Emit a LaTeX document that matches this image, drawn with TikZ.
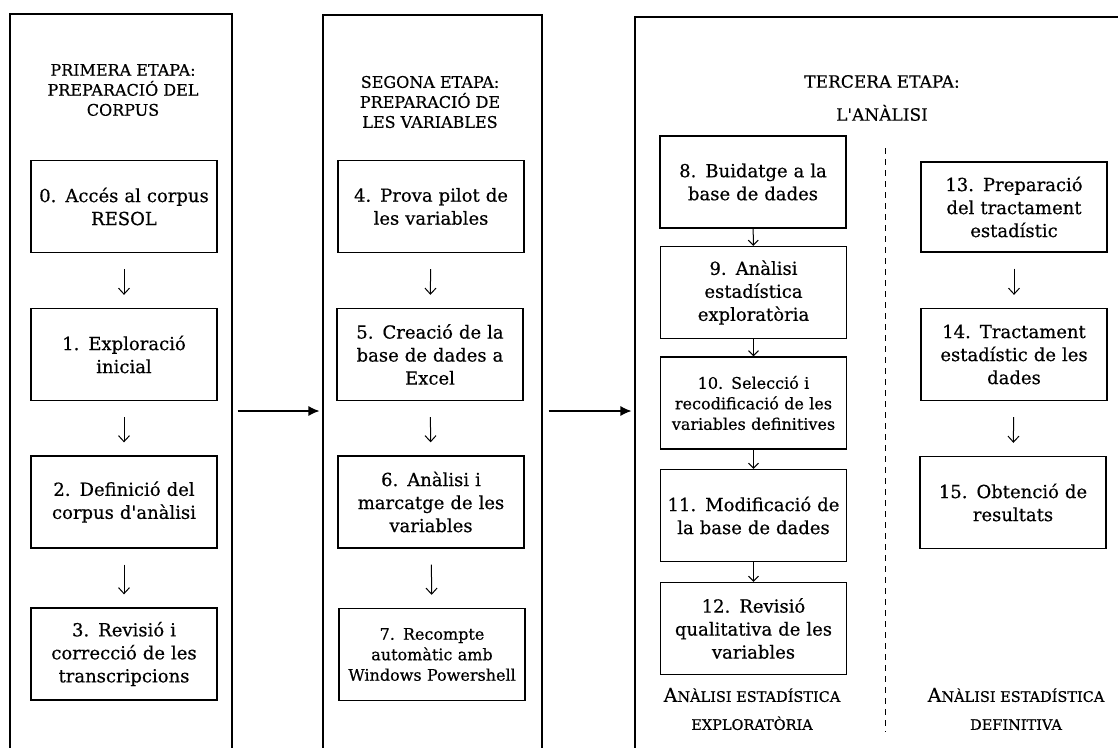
\documentclass[tikz,border=0pt]{standalone}
\usepackage{fontspec}
\setmainfont{DejaVu Serif}[Ligatures=TeXOff, FakeBold=0.5]
\usetikzlibrary{arrows.meta}

\begin{document}
\begin{tikzpicture}[x=1pt, y=-1pt,
    stage/.style={draw, line width=1.1pt, inner sep=0pt},
    stepbox/.style={draw, line width=1.3pt, minimum width=186pt, minimum height=92pt,
      text width=184pt, align=center, inner sep=0pt, font=\fontsize{18}{23}\selectfont},
    smallbox/.style={stepbox, font=\fontsize{16}{20.5}\selectfont},
    heading/.style={align=center, inner sep=0pt, font=\fontsize{16}{20}\selectfont},
    sclabel/.style={align=center, inner sep=0pt, font=\fontsize{14.5}{28}\selectfont},
    down/.style={-{Straight Barb[length=6pt, width=11pt]}, line width=1pt, shorten <=16pt, shorten >=13pt},
    near/.style={-{Straight Barb[length=5pt, width=10pt]}, line width=1pt},
    pass/.style={-{Latex[length=11pt, width=10pt]}, line width=1.2pt, shorten <=5pt, shorten >=3pt}]

    \useasboundingbox (0,0) rectangle (1118,747);

    % the three stages
    \node [stage, minimum width=222pt, minimum height=794pt] (p1) at (121, 411) {};
    \node [stage, minimum width=219pt, minimum height=792pt] (p2) at (432.5, 411) {};
    \node [stage, minimum width=525pt, minimum height=788pt] (p3) at (897.5, 411) {};

    \node [heading] (t1) at (123, 90) {PRIMERA ETAPA:\\PREPARACIÓ DEL\\CORPUS};
    \node [heading] (t2) at (430, 102) {SEGONA ETAPA:\\PREPARACIÓ DE\\LES VARIABLES};
    \node [heading, font=\fontsize{17}{33}\selectfont] (t3) at (882, 98) {TERCERA ETAPA:\\L'ANÀLISI};

    % first stage
    \node [stepbox] (b0) at (124, 206.5) {0. Accés al corpus\\RESOL};
    \node [stepbox] (b1) at (124, 354.5) {1. Exploració\\inicial};
    \node [stepbox] (b2) at (124, 502) {2. Definició del\\corpus d'anàlisi};
    \node [stepbox] (b3) at (124, 654) {3. Revisió i\\correcció de les\\transcripcions};

    % second stage
    \node [stepbox] (b4) at (431, 206.5) {4. Prova pilot de\\les variables};
    \node [stepbox] (b5) at (430, 354.5) {5. Creació de la\\base de dades a\\Excel};
    \node [stepbox] (b6) at (431, 502) {6. Anàlisi i\\marcatge de les\\variables};
    \node [smallbox] (b7) at (432, 654.5) {7. Recompte\\automàtic amb\\Windows Powershell};

    % third stage
    \node [stepbox] (b8) at (753, 182) {8. Buidatge a la\\base de dades};
    \node [stepbox] (b9) at (753.5, 292.5) {9. Anàlisi\\estadística\\exploratòria};
    \node [smallbox] (b10) at (753.5, 403) {10. Selecció i\\recodificació de les\\variables definitives};
    \node [stepbox] (b11) at (753.5, 515.5) {11. Modificació de\\la base de dades};
    \node [stepbox] (b12) at (753.5, 628.5) {12. Revisió\\qualitativa de les\\variables};

    \node [stepbox, minimum height=90pt] (b13) at (1014, 207) {13. Preparació\\del tractament\\estadístic};
    \node [stepbox] (b14) at (1014, 354.5) {14. Tractament\\estadístic de les\\dades};
    \node [stepbox] (b15) at (1013, 502.5) {15. Obtenció de\\resultats};

    \node [sclabel] (l1) at (752, 709) {{\fontsize{19}{28}\selectfont A}NÀLISI ESTADÍSTICA\\EXPLORATÒRIA};
    \node [sclabel] (l2) at (1016, 709) {{\fontsize{19}{28}\selectfont A}NÀLISI ESTADÍSTICA\\DEFINITIVA};

    \coordinate (dtop) at (885, 148);
    \coordinate (dbot) at (885, 732);
    \draw [line width=1pt, dash pattern=on 6pt off 5pt] (dtop) -- (dbot);

    \draw [down] (b0) to (b1);
    \draw [down] (b1) to (b2);
    \draw [down] (b2) to (b3);
    \draw [down] (b4) to (b5);
    \draw [down] (b5) to (b6);
    \draw [down] (b6) to (b7);
    \draw [near] (b8) to (b9);
    \draw [near] (b9) to (b10);
    \draw [near] (b10) to (b11);
    \draw [near] (b11) to (b12);
    \draw [down] (b13) to (b14);
    \draw [down] (b14) to (b15);

    \draw [pass] (p1) to (p2);
    \draw [pass, shorten <=6pt] (p2) to (p3);

  \end{tikzpicture}
\end{document}
